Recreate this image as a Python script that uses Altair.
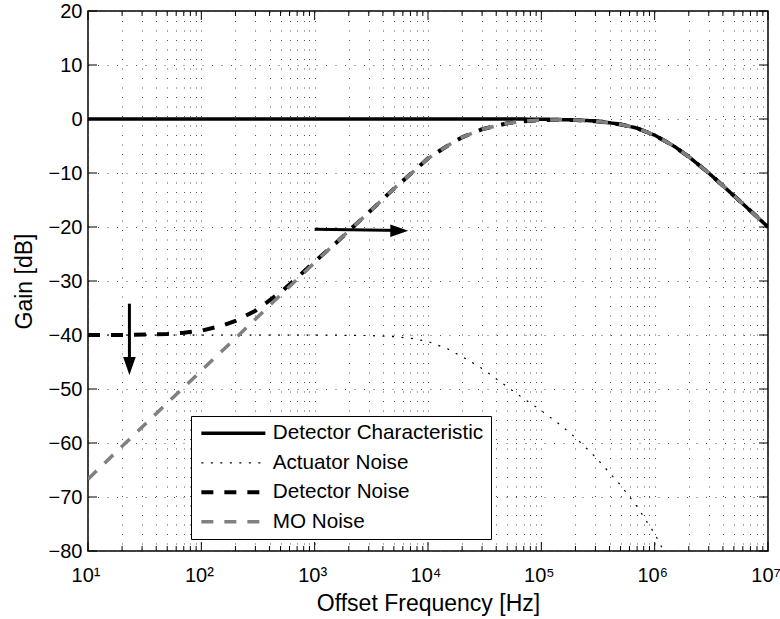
import altair as alt
import pandas as pd

# ---------------- data ----------------
series_names = ["Detector Characteristic", "Actuator Noise", "Detector Noise", "MO Noise"]

det_char_f = [10, 100, 1000, 10000, 50000, 100000, 200000, 300000, 500000, 700000,
              1000000, 1500000, 2000000, 3000000, 5000000, 7000000, 10000000]
det_char_g = [0.0, 0.0, 0.0, 0.0, 0.0, -0.04, -0.17, -0.37, -0.97, -1.7,
              -3.0, -5.1, -7.0, -10.0, -14.2, -17.0, -20.0]

act_f = [10, 100, 1000, 3000, 5000, 7000, 10000, 15000, 20000, 30000, 50000, 70000,
         100000, 150000, 200000, 300000, 500000, 700000, 1000000, 1200000]
act_g = [-40.0, -40.0, -40.0, -40.1, -40.3, -40.6, -41.2, -42.6, -44.0, -46.2, -49.6, -51.8,
         -54.0, -56.8, -59.0, -62.6, -67.8, -71.8, -76.8, -80.0]

det_noise_f = [10, 20, 50, 70, 100, 150, 200, 300, 500, 700, 1000, 1500, 2000, 3000, 5000,
               7000, 10000, 15000, 20000, 30000, 50000, 70000, 100000, 150000, 200000,
               300000, 500000, 700000, 1000000, 1500000, 2000000, 3000000, 5000000,
               7000000, 10000000]
det_noise_g = [-40.0, -40.0, -39.8, -39.6, -39.2, -38.3, -37.4, -35.5, -32.1, -29.4, -26.4,
               -23.2, -20.7, -17.3, -12.9, -10.2, -7.3, -4.9, -3.4, -1.9, -0.8, -0.4, -0.2,
               -0.15, -0.2, -0.4, -1.0, -1.7, -3.0, -5.1, -7.0, -10.0, -14.2, -17.0, -20.0]

mo_f = [10, 20, 50, 100, 200, 500, 1000, 2000, 3000, 5000, 7000, 10000, 15000, 20000,
        30000, 50000, 70000, 100000, 150000, 200000, 300000, 500000, 700000, 1000000,
        1500000, 2000000, 3000000, 5000000, 7000000, 10000000]
mo_g = [-66.7, -60.6, -52.6, -46.6, -40.6, -32.6, -26.6, -20.7, -17.3, -12.9, -10.2, -7.3,
        -4.9, -3.4, -1.9, -0.8, -0.4, -0.2, -0.15, -0.2, -0.4, -1.0, -1.7, -3.0, -5.1,
        -7.0, -10.0, -14.2, -17.0, -20.0]

x_major = [10, 100, 1000, 10000, 100000, 1000000, 10000000]
x_minor = [m * d for d in [10, 100, 1000, 10000, 100000, 1000000] for m in range(2, 10)]
y_major = [-80, -70, -60, -50, -40, -30, -20, -10, 0, 10, 20]

arrow_start_f = [1000, 23.2]
arrow_start_g = [-20.4, -34.2]
arrow_end_f = [6000, 23.2]
arrow_end_g = [-20.65, -44.5]
head_right_f = [6700]
head_right_g = [-20.7]
head_down_f = [23.2]
head_down_g = [-47.4]

# ---------------- styles ----------------
colors = ["#000000", "#000000", "#000000", "#808080"]
dashes = [[1, 0], [2, 7.5], [12, 11], [12, 11]]
widths = [3.5, 1.2, 4, 3.5]
FONT = "Liberation Sans"

rows = []
for name, fs, gs in zip(series_names,
                        [det_char_f, act_f, det_noise_f, mo_f],
                        [det_char_g, act_g, det_noise_g, mo_g]):
    for f, g in zip(fs, gs):
        rows.append({"series": name, "f": f, "g": g})
df = pd.DataFrame(rows)

label_expr = ("datum.value == 10 ? '10¹' : datum.value == 100 ? '10²' : "
              "datum.value == 1000 ? '10³' : datum.value == 10000 ? '10⁴' : "
              "datum.value == 100000 ? '10⁵' : datum.value == 1000000 ? '10⁶' : "
              "datum.value == 10000000 ? '10⁷' : ''")

x_enc = alt.X("f:Q",
              scale=alt.Scale(type="log", domain=[10, 10000000]),
              axis=alt.Axis(values=sorted(x_major + x_minor), labelExpr=label_expr,
                            title="Offset Frequency [Hz]", grid=True, ticks=False,
                            tickSize=0, domain=False, labelFlush=False, labelOverlap=False,
                            labelPadding=14, labelOffset=-2.5, labelFontSize=20,
                            labelFont=FONT, labelColor="black", titleFont=FONT,
                            titleFontSize=23, titleFontWeight="normal", titleColor="black",
                            titleBaseline="alphabetic", titleY=59,
                            gridDash=[1, 8.5], gridColor="#555555", gridWidth=1))
y_enc = alt.Y("g:Q",
              scale=alt.Scale(domain=[-80, 20]),
              axis=alt.Axis(values=y_major, format="d", title="Gain [dB]", grid=True,
                            ticks=False, tickSize=0, domain=False, labelPadding=6,
                            labelFontSize=20, labelFont=FONT, labelColor="black",
                            titleFont=FONT, titleFontSize=23, titleFontWeight="normal",
                            titleColor="black", titlePadding=12,
                            gridDash=[1, 8.5], gridColor="#555555", gridWidth=1))

legend = alt.Legend(orient="none", legendX=103, legendY=405, title=None,
                    symbolType="M-4,0L4,0", symbolSize=256, labelFont=FONT,
                    labelFontSize=20.7, labelColor="black", labelLimit=400,
                    padding=7, rowPadding=7.5, strokeColor="black", fillColor="white",
                    symbolOffset=25, labelOffset=29)

color = alt.Color("series:N", scale=alt.Scale(domain=series_names, range=colors), legend=legend)
dash = alt.StrokeDash("series:N", scale=alt.Scale(domain=series_names, range=dashes), legend=legend)
width = alt.StrokeWidth("series:N",
                        scale=alt.Scale(type="ordinal", domain=series_names, range=widths),
                        legend=legend)

layers = []
for name in series_names:
    layers.append(
        alt.Chart(df).transform_filter(alt.datum.series == name)
        .mark_line(clip=True, strokeCap="butt")
        .encode(x=x_enc, y=y_enc, color=color, strokeDash=dash, strokeWidth=width)
    )

# arrows
arrow_df = pd.DataFrame({"f": arrow_start_f, "g": arrow_start_g,
                         "f2": arrow_end_f, "g2": arrow_end_g})
shafts = alt.Chart(arrow_df).mark_rule(color="black", strokeWidth=3).encode(
    x="f:Q", y="g:Q", x2="f2:Q", y2="g2:Q")
head_r = alt.Chart(pd.DataFrame({"f": head_right_f, "g": head_right_g})).mark_point(
    shape="M0,0L-2,-0.7L-2,0.7Z", size=324, filled=True, color="black", opacity=1,
    strokeWidth=0).encode(x="f:Q", y="g:Q")
head_d = alt.Chart(pd.DataFrame({"f": head_down_f, "g": head_down_g})).mark_point(
    shape="M0,0L-0.7,-2L0.7,-2Z", size=324, filled=True, color="black", opacity=1,
    strokeWidth=0).encode(x="f:Q", y="g:Q")

# inward tick marks (all four sides)
xmaj = pd.DataFrame({"f": x_major})
xmin = pd.DataFrame({"f": x_minor})
ymaj = pd.DataFrame({"g": y_major})
tick_layers = [
    alt.Chart(xmaj).mark_rule(color="black", strokeWidth=1).encode(x="f:Q", y=alt.value(540), y2=alt.value(531)),
    alt.Chart(xmaj).mark_rule(color="black", strokeWidth=1).encode(x="f:Q", y=alt.value(0), y2=alt.value(9)),
    alt.Chart(xmin).mark_rule(color="black", strokeWidth=1).encode(x="f:Q", y=alt.value(540), y2=alt.value(535)),
    alt.Chart(xmin).mark_rule(color="black", strokeWidth=1).encode(x="f:Q", y=alt.value(0), y2=alt.value(5)),
    alt.Chart(ymaj).mark_rule(color="black", strokeWidth=1).encode(y="g:Q", x=alt.value(0), x2=alt.value(9)),
    alt.Chart(ymaj).mark_rule(color="black", strokeWidth=1).encode(y="g:Q", x=alt.value(680), x2=alt.value(671)),
]

chart = alt.layer(*layers, *tick_layers, shafts, head_r, head_d).properties(
    width=680, height=540,
    padding={"left": 88, "top": 11, "right": 12, "bottom": 68},
    autosize=alt.AutoSizeParams(type="none"),
    background="white",
).configure_view(stroke="black", strokeWidth=1.5)

chart.save("out.html", embed_options={"renderer": "svg", "actions": False})
